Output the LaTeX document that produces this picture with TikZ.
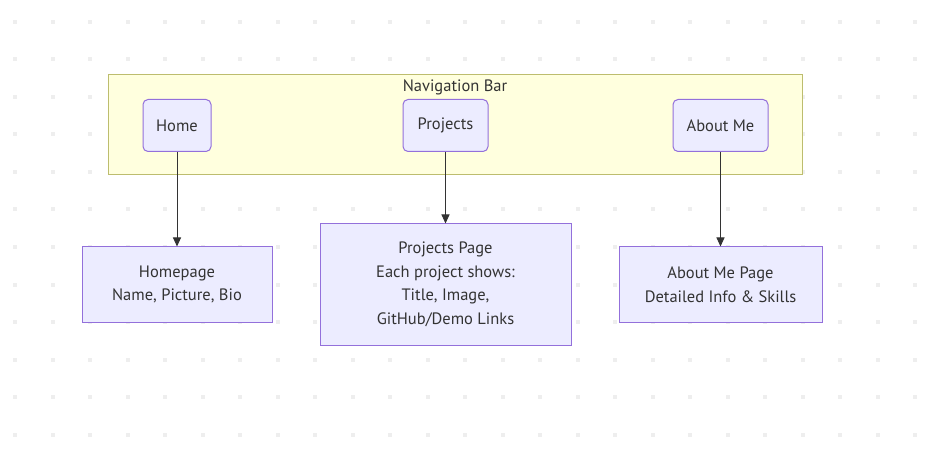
\documentclass[tikz,border=0pt]{standalone}
\usepackage{fontspec}
\setmainfont{PT Sans}
\usetikzlibrary{arrows.meta}
\definecolor{txt}{HTML}{333333}
\definecolor{navfill}{HTML}{FFFFDE}
\definecolor{navdraw}{HTML}{BDBD6E}
\definecolor{nodefill}{HTML}{ECECFF}
\definecolor{nodedraw}{HTML}{9370DB}
\definecolor{dotc}{HTML}{EEEEEE}
\tikzset{
  navbox/.style={draw=navdraw, fill=navfill, line width=1pt, minimum width=694pt, minimum height=100pt, inner sep=0pt},
  navbtn/.style={draw=nodedraw, fill=nodefill, line width=1pt, rounded corners=5pt, minimum height=52pt, inner sep=0pt, text=txt, font=\fontsize{16.5}{19}\selectfont},
  pagebox/.style={draw=nodedraw, fill=nodefill, line width=1pt, inner sep=0pt, text=txt, align=center, font=\fontsize{16.5}{23.5}\selectfont},
  titletext/.style={text=txt, inner sep=0pt, font=\fontsize{16.5}{19}\selectfont},
  link/.style={draw=txt, line width=1pt, -{Triangle[length=9pt,width=8pt]}}
}
\begin{document}
\begin{tikzpicture}[x=1pt,y=-1pt]
\useasboundingbox (0,0) rectangle (928,462);
\foreach \i in {0,...,24}{
  \foreach \j in {0,...,11}{
    \fill[dotc] ({15+37.5*\i-2},{22+37.5*\j-2}) rectangle ++(4,4);
  }
}
\node[navbox] (nav) at (455,125) {};
\node[titletext] (navtitle) at (455,87.5) {Navigation Bar};
\node[navbtn, minimum width=68pt] (home) at (177,125.5) {Home};
\node[navbtn, minimum width=85pt] (proj) at (445.5,125.5) {Projects};
\node[navbtn, minimum width=95pt] (about) at (720.5,125.5) {About Me};
\node[pagebox, minimum width=190pt, minimum height=75pt] (homepage) at (177,284.5) {Homepage\\Name, Picture, Bio};
\node[pagebox, minimum width=251pt, minimum height=121pt] (projpage) at (445.5,284.5) {Projects Page\\Each project shows:\\Title, Image,\\GitHub/Demo Links};
\node[pagebox, minimum width=203pt, minimum height=75pt] (aboutpage) at (720.5,284.5) {About Me Page\\Detailed Info \& Skills};
\draw[link] (home) -- (homepage);
\draw[link] (proj) -- (projpage);
\draw[link] (about) -- (aboutpage);
\end{tikzpicture}
\end{document}
